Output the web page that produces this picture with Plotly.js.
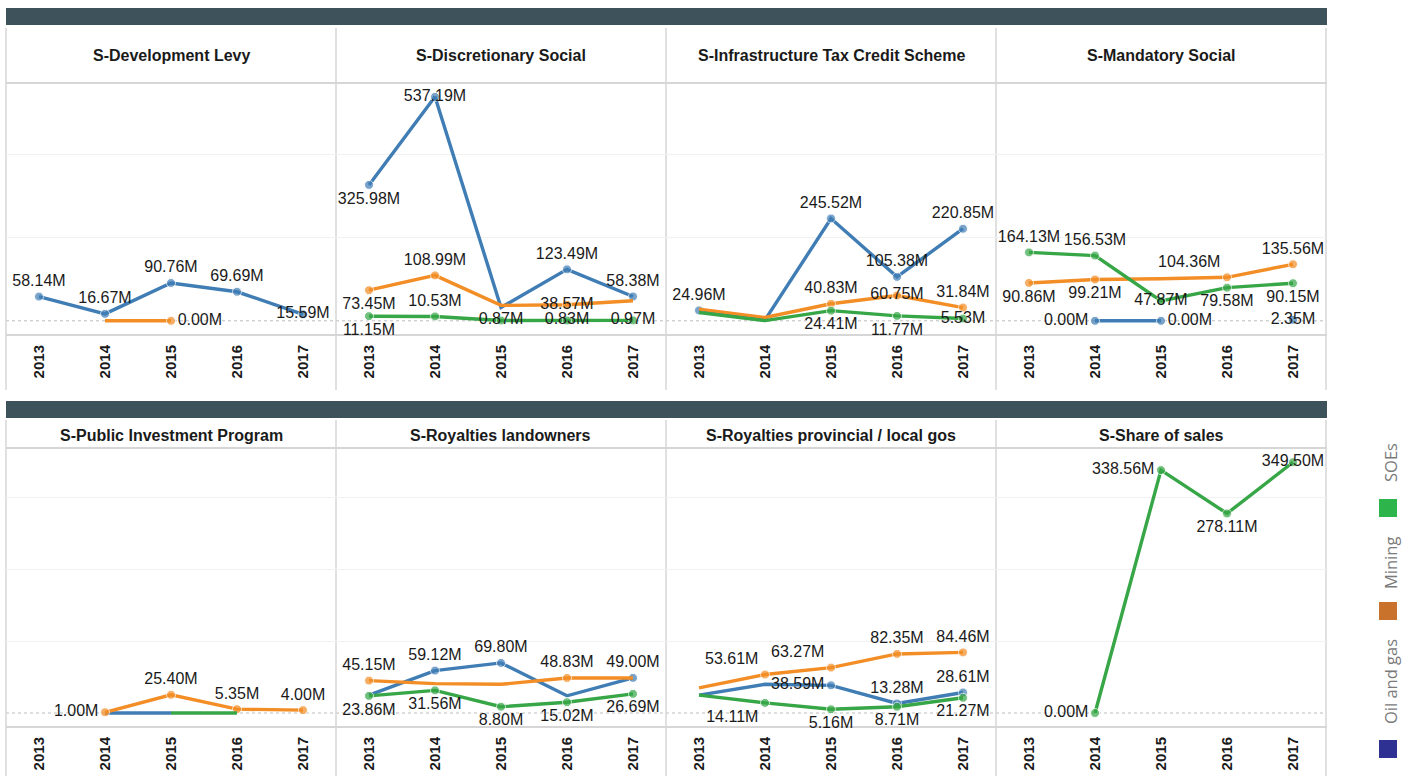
<!DOCTYPE html>
<html>
<head>
<meta charset="utf-8">
<script src="https://cdn.plot.ly/plotly-3.0.1.min.js"></script>
<style>
html,body{margin:0;padding:0;background:#fff;}
#chart{width:1415px;height:776px;}
</style>
</head>
<body>
<div id="chart"></div>
<script>
// ---------------- DATA ----------------
const years = ['2013','2014','2015','2016','2017'];
const panelTitles = [
  'S-Development Levy',
  'S-Discretionary Social',
  'S-Infrastructure Tax Credit Scheme',
  'S-Mandatory Social',
  'S-Public Investment Program',
  'S-Royalties landowners',
  'S-Royalties provincial / local gos',
  'S-Share of sales'
];
const seriesNames = ['Oil and gas','Mining','SOEs'];

// values in millions, one row per panel
const oilGas = [
  [58.14, 16.67, 90.76, 69.69, 15.59],
  [325.98, 537.19, 32, 123.49, 58.38],
  [24.96, 2, 245.52, 105.38, 220.85],
  [null, 0.00, 0.00, null, 2.35],
  [null, 0, 0, null, null],
  [25, 59.12, 69.80, 24, 49.00],
  [25, 40, 38.59, 13.28, 28.61],
  [null, null, null, null, null]
];
const mining = [
  [null, 0, 0.00, null, null],
  [73.45, 108.99, 37, 38.57, 48],
  [28, 8, 40.83, 60.75, 31.84],
  [90.86, 99.21, 101, 104.36, 135.56],
  [null, 1.00, 25.40, 5.35, 4.00],
  [45.15, 41, 40, 48.83, 48.9],
  [35, 53.61, 63.27, 82.35, 84.46],
  [null, null, null, null, null]
];
const soes = [
  [null, null, null, null, null],
  [11.15, 10.53, 0.87, 0.83, 0.97],
  [20, 0.5, 24.41, 11.77, 5.53],
  [164.13, 156.53, 47.87, 79.58, 90.15],
  [null, null, 0, 0, null],
  [23.86, 31.56, 8.80, 15.02, 26.69],
  [25, 14.11, 5.16, 8.71, 21.27],
  [null, 0.00, 338.56, 278.11, 349.50]
];

// ---------------- STYLE ----------------
const lineColors = ['#3f7db4', '#f38d25', '#37a647'];
const legendColors = ['#2e3192', '#c8722c', '#2db44b'];
// label placement per series / panel / year ('' = no label)
const labelPos = [
  [ // oil and gas
    ['top center','top center','top center','top center','middle center'],
    ['bottom center','middle center','','top center','top center'],
    ['top center','','top center','top center','top center'],
    ['','middle left','middle right','','middle center'],
    ['','','','',''],
    ['','top center','top center','','top center'],
    ['','','middle left','top center','top center'],
    ['','','','','']
  ],
  [ // mining
    ['','','middle right','',''],
    ['bottom center','top center','','middle center',''],
    ['','','top center','middle center','top center'],
    ['bottom center','bottom center','','top left','top center'],
    ['','middle left','top center','top center','top center'],
    ['top center','','','top center',''],
    ['','top left','top left','top center','top center'],
    ['','','','','']
  ],
  [ // SOEs
    ['','','','',''],
    ['bottom center','top center','middle center','middle center','middle center'],
    ['','','bottom center','bottom center','middle center'],
    ['top center','top center','middle center','bottom center','bottom center'],
    ['','','','',''],
    ['bottom center','bottom center','bottom center','bottom center','bottom center'],
    ['','bottom left','bottom center','bottom center','bottom center'],
    ['','middle left','middle left','bottom center','middle center']
  ]
];

const W = 1415, H = 776;
const PX = x => x / W;
const PY = y => 1 - y / H;
const colLeft = [6, 336, 666, 996];
const colW = 330;
const rows = [
  {barTop: 8, barBot: 25, headTop: 28, headBot: 83, plotTop: 84, plotBot: 335, axisBot: 390, titleY: 56, yRange: [-34, 568], grid: [200, 400]},
  {barTop: 401, barBot: 418, headTop: 420, headBot: 448, plotTop: 449, plotBot: 727, axisBot: 776, titleY: 435, yRange: [-19.5, 368], grid: [100, 200, 300]}
];
const FONT = 'Liberation Sans, Arial, Helvetica, sans-serif';

const allSeries = [oilGas, mining, soes];
const traces = [];
const layout = {
  width: W, height: H,
  margin: {l: 0, r: 0, t: 0, b: 0},
  paper_bgcolor: '#ffffff',
  plot_bgcolor: 'rgba(0,0,0,0)',
  showlegend: false,
  font: {family: FONT, color: '#222'},
  shapes: [],
  annotations: []
};

function fmt(v){ return v.toFixed(2) + 'M'; }

for (let p = 0; p < 8; p++) {
  const r = rows[Math.floor(p / 4)];
  const c = p % 4;
  const k = p + 1;
  const xa = 'x' + (k > 1 ? k : '');
  const ya = 'y' + (k > 1 ? k : '');
  const xl = 'xaxis' + (k > 1 ? k : '');
  const yl = 'yaxis' + (k > 1 ? k : '');
  layout[xl] = {
    domain: [PX(colLeft[c]), PX(colLeft[c] + colW)],
    anchor: ya,
    type: 'category',
    categoryorder: 'array',
    categoryarray: years,
    range: [-0.5, 4.5],
    showgrid: false, zeroline: false, showline: false,
    ticks: '', tickangle: -90,
    tickfont: {family: FONT, size: 15, color: '#1a1a1a', weight: 'bold'},
    ticklabelstandoff: 6,
    fixedrange: true
  };
  layout[yl] = {
    domain: [PY(r.plotBot), PY(r.plotTop)],
    anchor: xa,
    range: r.yRange,
    tickvals: r.grid,
    showticklabels: false,
    showgrid: true, gridcolor: '#f1f1f1', gridwidth: 1,
    zeroline: false, showline: false, ticks: '',
    fixedrange: true
  };
  // dotted zero line
  layout.shapes.push({type: 'line', xref: xa + ' domain', yref: ya, x0: 0, x1: 1, y0: 0, y1: 0,
    line: {color: '#bdbdbd', width: 1, dash: 'dot'}, layer: 'below'});

  for (let s = 0; s < 3; s++) {
    const vals = allSeries[s][p];
    const pos = labelPos[s][p];
    if (vals.every(v => v === null)) continue;
    traces.push({
      type: 'scatter',
      mode: 'lines+markers+text',
      name: seriesNames[s],
      x: years, y: vals,
      xaxis: xa, yaxis: ya,
      connectgaps: false,
      cliponaxis: false,
      line: {color: lineColors[s], width: 3.4},
      marker: {color: lineColors[s], size: vals.map((v, i) => (pos[i] && v !== null) ? 9 : 0)},
      text: vals.map((v, i) => (pos[i] && v !== null) ? fmt(v) : ''),
      textposition: pos.map(t => t || 'top center'),
      textfont: {family: FONT, size: 16, color: '#1a1a1a'},
      hoverinfo: 'skip'
    });
  }

  // panel title
  layout.annotations.push({xref: 'paper', yref: 'paper', x: PX(colLeft[c] + colW / 2), y: PY(r.titleY),
    text: '<b>' + panelTitles[p] + '</b>', showarrow: false, xanchor: 'center', yanchor: 'middle',
    font: {family: FONT, size: 16, color: '#1a1a1a'}});
}

// frame: dark bars, header lines, separators
const sepColor = '#d6d6d6';
rows.forEach(r => {
  layout.shapes.push({type: 'rect', xref: 'paper', yref: 'paper', x0: PX(6), x1: PX(1327), y0: PY(r.barBot), y1: PY(r.barTop),
    fillcolor: '#3e525c', line: {width: 0}, layer: 'below'});
  [r.headBot, r.plotBot].forEach(yy => {
    layout.shapes.push({type: 'line', xref: 'paper', yref: 'paper', x0: PX(6), x1: PX(1327), y0: PY(yy), y1: PY(yy),
      line: {color: sepColor, width: 2}, layer: 'below'});
  });
  [6, 336, 666, 996, 1326].forEach(xx => {
    layout.shapes.push({type: 'line', xref: 'paper', yref: 'paper', x0: PX(xx), x1: PX(xx), y0: PY(r.axisBot), y1: PY(r.headTop),
      line: {color: sepColor, width: 1.5}, layer: 'below'});
  });
});

// legend (vertical, rotated text)
const legendItems = [
  {name: 'SOEs', textY: 463, boxTop: 499, color: legendColors[2]},
  {name: 'Mining', textY: 563, boxTop: 602, color: legendColors[1]},
  {name: 'Oil and gas', textY: 682, boxTop: 740, color: legendColors[0]}
];
legendItems.forEach(it => {
  layout.shapes.push({type: 'rect', xref: 'paper', yref: 'paper', x0: PX(1379), x1: PX(1397), y0: PY(it.boxTop + 18), y1: PY(it.boxTop),
    fillcolor: it.color, line: {width: 0}});
  layout.annotations.push({xref: 'paper', yref: 'paper', x: PX(1390), y: PY(it.textY), text: it.name,
    textangle: -90, showarrow: false, xanchor: 'center', yanchor: 'middle',
    font: {family: 'Open Sans, Noto Sans, sans-serif', size: 16.5, color: '#7a7a7a'}});
});

Plotly.newPlot('chart', traces, layout, {displayModeBar: false, staticPlot: true});
</script>
</body>
</html>
